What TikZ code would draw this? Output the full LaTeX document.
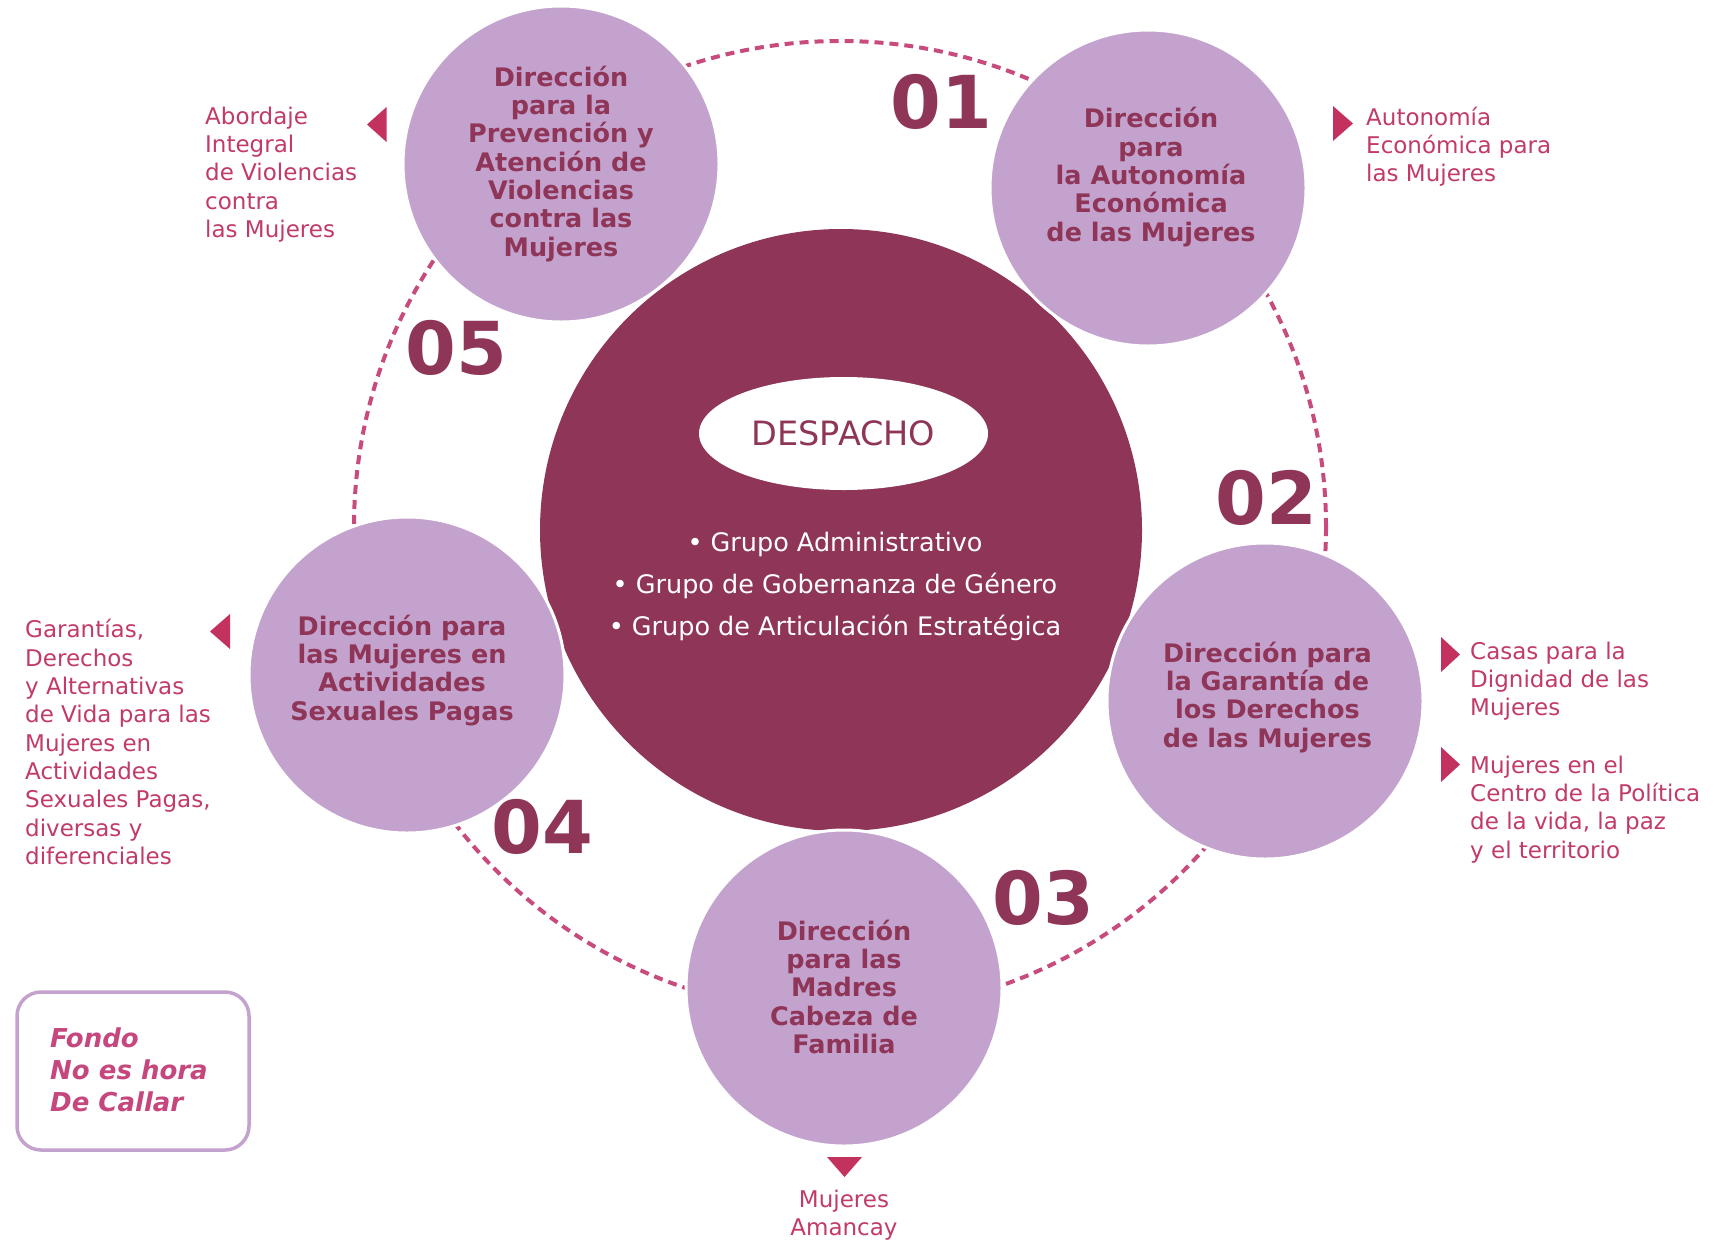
\documentclass[tikz,border=0pt]{standalone}
\usepackage{fontspec}
\setmainfont{DejaVu Sans}
\usetikzlibrary{shapes.geometric}
\definecolor{lilac}{HTML}{C4A2CE}
\definecolor{maroon}{HTML}{8F3558}
\definecolor{rose}{HTML}{C23A68}
\definecolor{tric}{HTML}{C3325E}
\definecolor{ringc}{HTML}{C84B7E}
\definecolor{fondoc}{HTML}{C6477D}
\newcommand{\hs}{\rule{0pt}{0.8em}}
\tikzset{
  dirc/.style={circle, fill=lilac, draw=white, line width=3pt, minimum size=316pt, inner sep=0pt},
  dirtext/.style={align=center, text=maroon, inner sep=0pt, anchor=north,
    font=\bfseries\fontsize{25.5}{28.3}\selectfont},
  lbl/.style={align=left, text=rose, inner sep=0pt, anchor=north west,
    font=\fontsize{23}{28.3}\selectfont},
  num/.style={text=maroon, inner sep=0pt, font=\bfseries\fontsize{73}{73}\selectfont},
  tri/.style={fill=tric, draw=none}
}
\begin{document}
\begin{tikzpicture}[x=1pt,y=-1pt]
\useasboundingbox (0,0) rectangle (1736,1240);
% dashed ring
\node[circle, draw=ringc, line width=4pt, dash pattern=on 9pt off 6pt,
      minimum size=972pt, inner sep=0pt] (ring) at (840,527) {};
% central circle
\node[circle, fill=maroon, minimum size=602pt, inner sep=0pt] (center) at (841,530) {};
\node[ellipse, fill=white, minimum width=289pt, minimum height=113pt, inner sep=0pt,
      text=maroon, font=\fontsize{33.5}{33.5}\selectfont] (desp) at (843.5,433.5) {DESPACHO};
\node[align=center, text=white, inner sep=0pt, anchor=north,
      font=\fontsize{25.5}{42}\selectfont] (grupos) at (835,531.3)
  {\hs• Grupo Administrativo\\• Grupo de Gobernanza de Género\\• Grupo de Articulación Estratégica};
% direction circles
\node[dirc] (c5) at (561,164) {};
\node[dirc] (c1) at (1148,188) {};
\node[dirc] (c4) at (407,675) {};
\node[dirc] (c2) at (1265,701) {};
\node[dirc] (c3) at (844,988) {};
\node[dirtext] (t5) at (561,65.6) {\hs Dirección\\para la\\Prevención y\\Atención de\\Violencias\\contra las\\Mujeres};
\node[dirtext] (t1) at (1151,107.3) {\hs Dirección\\para\\la Autonomía\\Económica\\de las Mujeres};
\node[dirtext] (t4) at (402,614.6) {\hs Dirección para\\las Mujeres en\\Actividades\\Sexuales Pagas};
\node[dirtext] (t2) at (1267.5,641.6) {\hs Dirección para\\la Garantía de\\los Derechos\\de las Mujeres};
\node[dirtext] (t3) at (844,919.6) {\hs Dirección\\para las\\Madres\\Cabeza de\\Familia};
% numbers
\node[num] (n1) at (941,101.5) {01};
\node[num] (n2) at (1266,498) {02};
\node[num] (n3) at (1043,898) {03};
\node[num] (n4) at (542,827) {04};
\node[num] (n5) at (456,348) {05};
% labels
\node[lbl] (l5) at (205,105.6) {\hs Abordaje\\Integral\\de Violencias\\contra\\las Mujeres};
\node[lbl] (l1) at (1366,106.6) {\hs Autonomía\\Económica para\\las Mujeres};
\node[lbl] (l4) at (25,619.3) {\hs Garantías,\\Derechos\\y Alternativas\\de Vida para las\\Mujeres en\\Actividades\\Sexuales Pagas,\\diversas y\\diferenciales};
\node[lbl] (l2a) at (1470,640.6) {\hs Casas para la\\Dignidad de las\\Mujeres};
\node[lbl] (l2b) at (1470,754.6) {\hs Mujeres en el\\Centro de la Política\\de la vida, la paz\\y el territorio};
\node[lbl, align=center, anchor=north] (l3) at (844,1188.6) {\hs Mujeres\\Amancay};
% triangles
\fill[tri] (367,124.5) -- (386.5,107) -- (386.5,142) -- cycle;
\fill[tri] (1353,123.5) -- (1333,106) -- (1333,141) -- cycle;
\fill[tri] (210,631.5) -- (230,614) -- (230,649) -- cycle;
\fill[tri] (1460,654.5) -- (1441,637) -- (1441,672) -- cycle;
\fill[tri] (1460,764.5) -- (1441,747) -- (1441,782) -- cycle;
\fill[tri] (844.5,1177) -- (827,1157) -- (862,1157) -- cycle;
% fondo box
\node[draw=lilac, line width=3.5pt, fill=white, rounded corners=24pt,
      minimum width=232pt, minimum height=158pt, inner sep=0pt] (fondo) at (133,1071) {};
\node[align=left, text=fondoc, inner sep=0pt, anchor=north west,
      font=\bfseries\itshape\fontsize{26}{32}\selectfont] (fondot) at (50,1026.2)
  {\hs Fondo\\No es hora\\De Callar};
\end{tikzpicture}
\end{document}
